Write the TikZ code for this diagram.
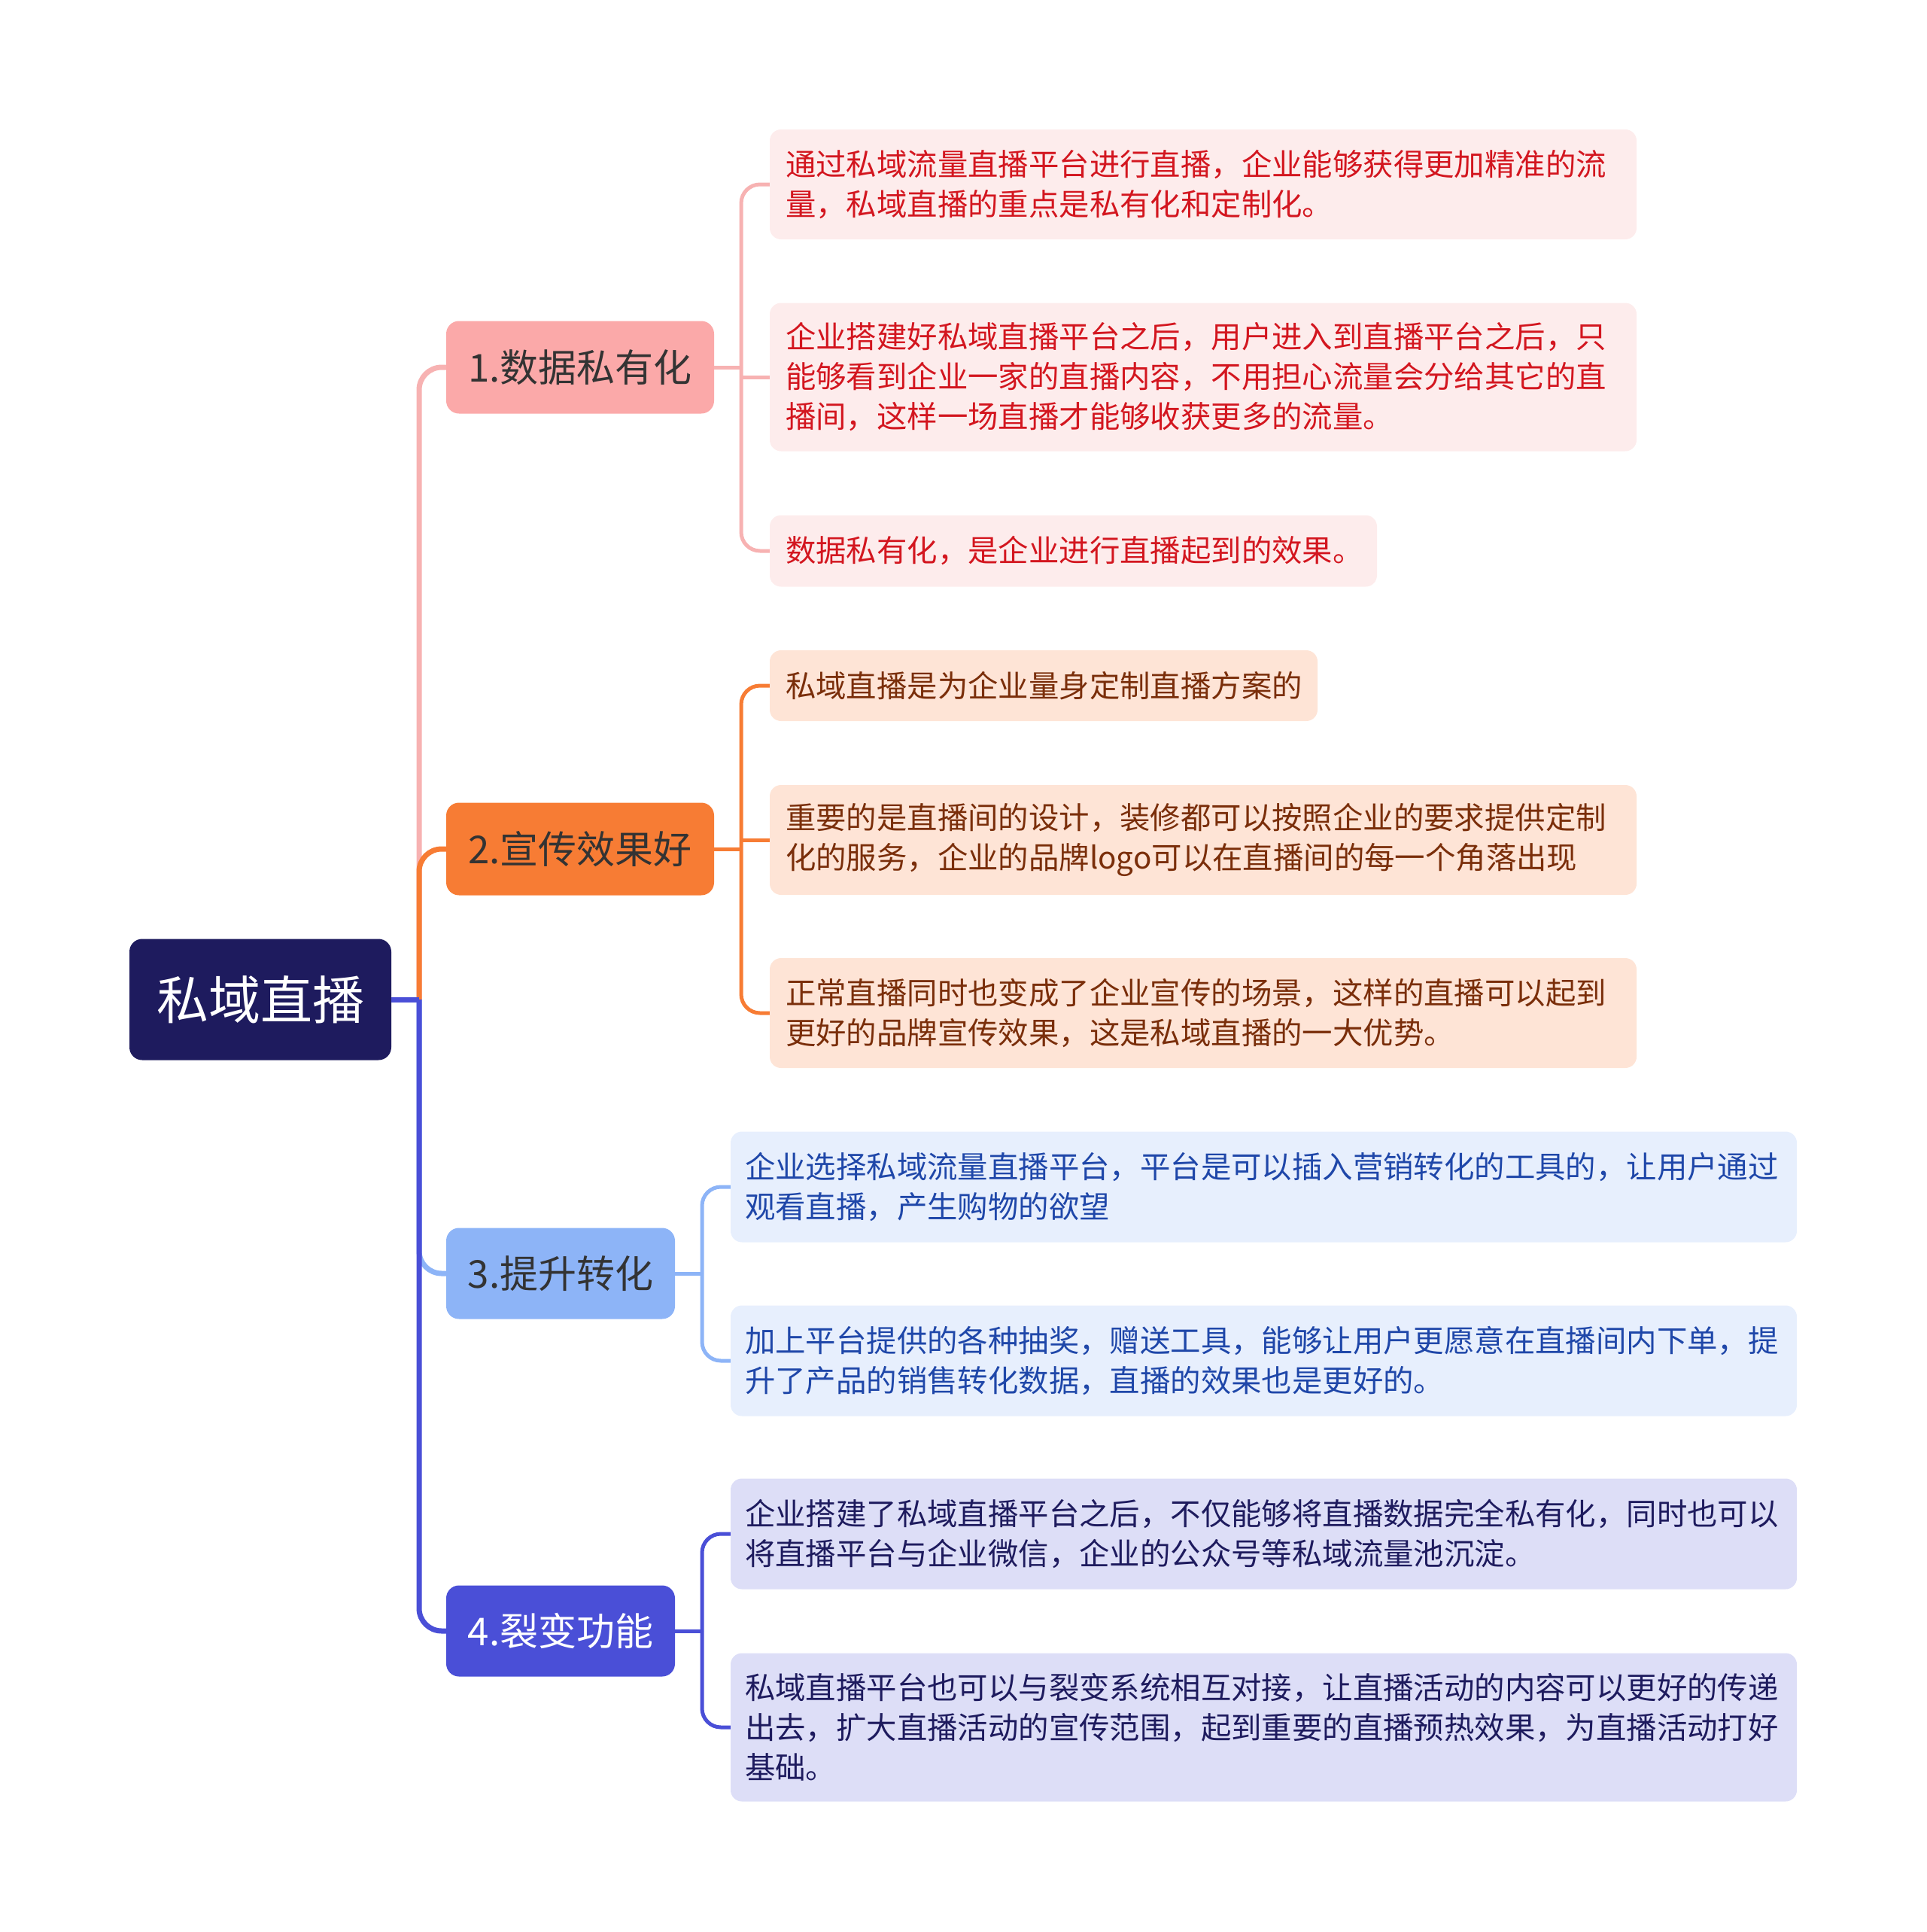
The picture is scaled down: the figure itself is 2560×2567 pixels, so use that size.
\documentclass[tikz,border=0pt]{standalone}
\usepackage{fontspec}
\setmainfont{Noto Sans CJK SC}
\definecolor{rootc}{HTML}{1E1B5E}
\definecolor{bonefill}{HTML}{FBA9A9}
\definecolor{bone}{HTML}{F7B2B2}
\definecolor{btwo}{HTML}{F77C34}
\definecolor{bthree}{HTML}{8DB4F7}
\definecolor{bfour}{HTML}{4A4FD7}
\definecolor{lonefill}{HTML}{FDECEC}
\definecolor{lonetext}{HTML}{D3161F}
\definecolor{ltwofill}{HTML}{FEE4D6}
\definecolor{ltwotext}{HTML}{7A2E0A}
\definecolor{lthreefill}{HTML}{E7EFFD}
\definecolor{lthreetext}{HTML}{1F47A9}
\definecolor{lfourfill}{HTML}{DDDEF7}
\definecolor{lfourtext}{HTML}{1E1B5E}
\definecolor{darktext}{HTML}{333333}
\tikzset{
  rootbox/.style={fill=rootc, rounded corners=17pt, text=white, font=\fontsize{69}{80}\selectfont, minimum width=348pt, minimum height=161pt, inner sep=0pt},
  brbox/.style={rounded corners=17pt, font=\fontsize{51}{60}\selectfont, minimum height=123pt, inner sep=0pt},
  leafbox/.style={rounded corners=15pt, font=\fontsize{40.4}{53}\selectfont, align=left, inner xsep=21pt, inner ysep=0pt},
  wideleaf/.style={leafbox, inner xsep=19pt, text width=1379pt},
  trunk/.style={line width=7pt, rounded corners=30pt},
  twig/.style={line width=5pt, rounded corners=25pt},
}
\begin{document}
\begin{tikzpicture}[x=1pt,y=-1pt]
\useasboundingbox (0,0) rectangle (2560,2567);
% root and branches
\node[rootbox] (root) at (346,1328) {私域直播};
\node[brbox, fill=bonefill, text=darktext, minimum width=356pt] (b1) at (771,488) {1.数据私有化};
\node[brbox, fill=btwo, text=darktext, minimum width=356pt] (b2) at (771,1128) {2.宣传效果好};
\node[brbox, fill=bthree, text=darktext, minimum width=304pt, minimum height=121pt] (b3) at (745,1692) {3.提升转化};
\node[brbox, fill=bfour, text=white, minimum width=304pt, minimum height=121pt] (b4) at (745,2167) {4.裂变功能};
% leaves group 1
\node[leafbox, fill=lonefill, text=lonetext, text width=1110pt, minimum height=146pt] (c1a) at (1599,245) {通过私域流量直播平台进行直播，企业能够获得更加精准的流\\量，私域直播的重点是私有化和定制化。};
\node[leafbox, fill=lonefill, text=lonetext, text width=1110pt, minimum height=197pt] (c1b) at (1599,501) {企业搭建好私域直播平台之后，用户进入到直播平台之后，只\\能够看到企业一家的直播内容，不用担心流量会分给其它的直\\播间，这样一场直播才能够收获更多的流量。};
\node[leafbox, fill=lonefill, text=lonetext, text width=765pt, minimum height=95pt] (c1c) at (1426.5,732) {数据私有化，是企业进行直播起到的效果。};
% leaves group 2
\node[leafbox, fill=ltwofill, text=ltwotext, text width=686pt, minimum height=94pt] (c2a) at (1387,911) {私域直播是为企业量身定制直播方案的};
\node[leafbox, fill=ltwofill, text=ltwotext, text width=1110pt, minimum height=146pt] (c2b) at (1599,1116) {重要的是直播间的设计，装修都可以按照企业的要求提供定制\\化的服务，企业的品牌logo可以在直播间的每一个角落出现};
\node[leafbox, fill=ltwofill, text=ltwotext, text width=1110pt, minimum height=146pt] (c2c) at (1599,1346) {正常直播同时也变成了企业宣传的场景，这样的直播可以起到\\更好的品牌宣传效果，这是私域直播的一大优势。};
% leaves group 3
\node[wideleaf, fill=lthreefill, text=lthreetext, minimum height=147pt] (c3a) at (1679.5,1577) {企业选择私域流量直播平台，平台是可以插入营销转化的工具的，让用户通过\\观看直播，产生购物的欲望};
\node[wideleaf, fill=lthreefill, text=lthreetext, minimum height=147pt] (c3b) at (1679.5,1808) {加上平台提供的各种抽奖，赠送工具，能够让用户更愿意在直播间内下单，提\\升了产品的销售转化数据，直播的效果也是更好的。};
% leaves group 4
\node[wideleaf, fill=lfourfill, text=lfourtext, minimum height=147pt] (c4a) at (1679.5,2038) {企业搭建了私域直播平台之后，不仅能够将直播数据完全私有化，同时也可以\\将直播平台与企业微信，企业的公众号等私域流量池沉淀。};
\node[wideleaf, fill=lfourfill, text=lfourtext, minimum height=197pt] (c4b) at (1679.5,2295) {私域直播平台也可以与裂变系统相互对接，让直播活动的内容可以更好的传递\\出去，扩大直播活动的宣传范围，起到重要的直播预热效果，为直播活动打好\\基础。};
% junction coordinates
\coordinate (j) at (557,1328);
\coordinate (k1) at (985,488);
\coordinate (k2) at (985,1128);
\coordinate (k3) at (933,1692);
\coordinate (k4) at (933,2167);
% trunk connectors
\draw[trunk, bone] (j) |- (b1.west);
\draw[trunk, btwo] (j) |- (b2.west);
\draw[trunk, bthree] (j) |- (b3.west);
\draw[trunk, bfour] (j) |- (b4.west);
\draw[line width=7pt, bfour] (root.east) -- (j);
% group 1 connectors
\draw[twig, bone] (b1.east) -- (k1);
\draw[twig, bone] (k1) |- (c1a.west);
\draw[twig, bone] (k1) |- (c1c.west);
\draw[twig, bone] (c1b.west -| k1) -- (c1b.west);
% group 2 connectors
\draw[twig, btwo] (b2.east) -- (k2);
\draw[twig, btwo] (k2) |- (c2a.west);
\draw[twig, btwo] (k2) |- (c2c.west);
\draw[twig, btwo] (c2b.west -| k2) -- (c2b.west);
% group 3 connectors
\draw[twig, bthree] (b3.east) -- (k3);
\draw[twig, bthree] (k3) |- (c3a.west);
\draw[twig, bthree] (k3) |- (c3b.west);
% group 4 connectors
\draw[twig, bfour] (b4.east) -- (k4);
\draw[twig, bfour] (k4) |- (c4a.west);
\draw[twig, bfour] (k4) |- (c4b.west);
\end{tikzpicture}
\end{document}
